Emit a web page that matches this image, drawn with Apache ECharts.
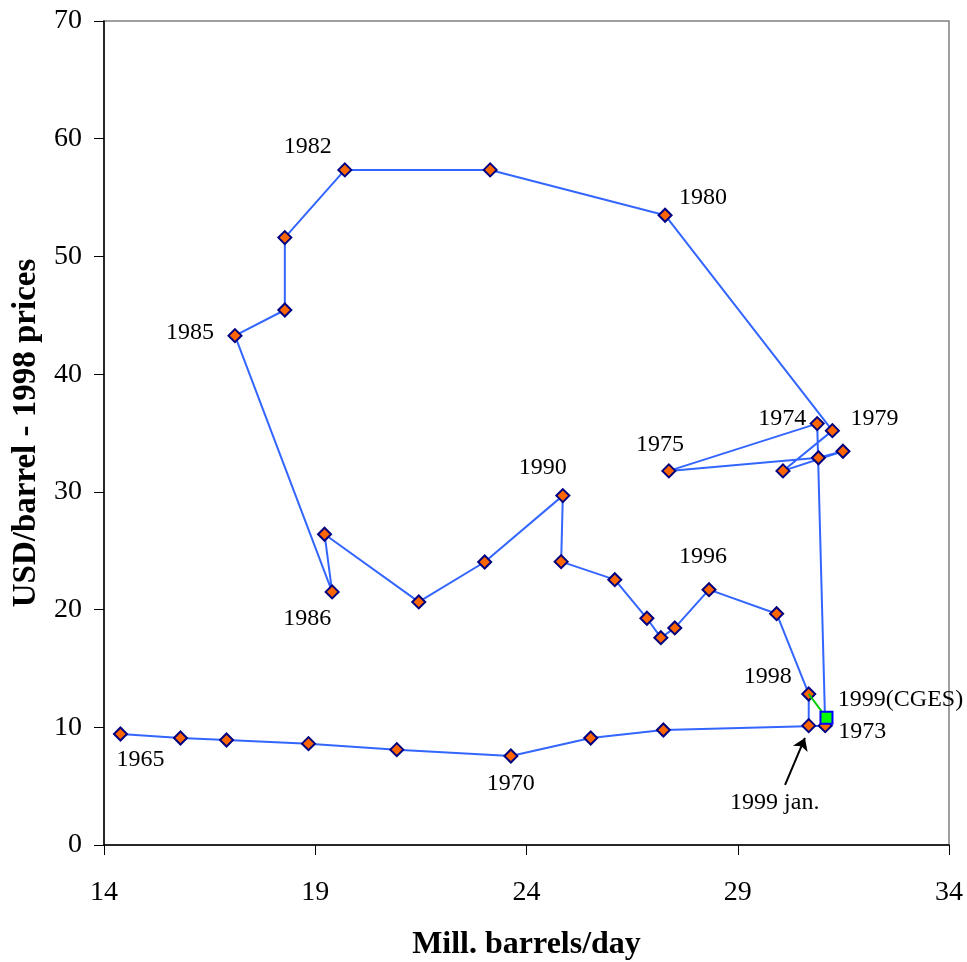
<!DOCTYPE html>
<html>
<head>
<meta charset="utf-8">
<script src="https://cdn.jsdelivr.net/npm/echarts@6/dist/echarts.min.js"></script>
<style>
  html, body { margin: 0; padding: 0; background: #fff; }
  #main { width: 967px; height: 962px; }
</style>
</head>
<body>
<div id="main"></div>
<script>
// years, production (mill. barrels/day) and real price (USD/barrel, 1998 prices)
var years = ['1965','1966','1967','1968','1969','1970','1971','1972','1973','1974',
             '1975','1976','1977','1978','1979','1980','1981','1982','1983','1984',
             '1985','1986','1987','1988','1989','1990','1991','1992','1993','1994',
             '1995','1996','1997','1998','1999 jan.'];
var production = [14.39, 15.81, 16.90, 18.84, 20.93, 23.63, 25.52, 27.24, 31.07, 30.88,
                  27.37, 30.91, 31.49, 30.07, 31.24, 27.28, 23.14, 19.70, 18.28, 18.28,
                  17.10, 19.40, 19.22, 21.45, 23.01, 24.86, 24.82, 26.09, 26.85, 27.18,
                  27.51, 28.32, 29.92, 30.68, 30.68];
var price = [9.43, 9.09, 8.92, 8.61, 8.10, 7.56, 9.09, 9.77, 10.14, 35.8,
             31.78, 32.9, 33.45, 31.78, 35.2, 53.5, 57.35, 57.35, 51.6, 45.45,
             43.27, 21.5, 26.4, 20.65, 24.04, 29.68, 24.07, 22.54, 19.26, 17.61,
             18.44, 21.69, 19.65, 12.83, 10.14];

// CGES estimate for 1999, drawn from the 1998 point
var cgesProduction = [30.68, 31.1];
var cgesPrice = [12.83, 10.8];

var xTicks = [14, 19, 24, 29, 34];

// label offsets in px (label centre minus point centre)
var labelOffsets = {
    '1965': [20, 26], '1970': [0, 28], '1973': [37, 6], '1974': [-35, -5],
    '1975': [-9, -26], '1979': [42, -12], '1980': [38, -18], '1982': [-37, -23],
    '1985': [-45, -3], '1986': [-25, 27], '1990': [-20, -28], '1996': [-6, -33],
    '1998': [-41, -17], '1999 jan.': [-34, 77]
};

// arrow pointing at the 1999 jan. point
var arrowFrom = [30.12, 5.1];
var arrowTo = [30.59, 9.1];

var fontFamily = '"Liberation Serif", "Times New Roman", serif';

var mainData = years.map(function (y, i) {
    var item = { name: y, value: [production[i], price[i]] };
    if (labelOffsets[y]) {
        item.label = { show: true, position: 'inside', offset: labelOffsets[y], formatter: y };
    }
    return item;
});

var cgesData = cgesProduction.map(function (p, i) {
    var item = { value: [p, cgesPrice[i]] };
    if (i === 0) {
        item.symbol = 'none';
    } else {
        item.label = { show: true, position: 'inside', offset: [74, -18], formatter: '1999(CGES)' };
    }
    return item;
});

var myChart = echarts.init(document.getElementById('main'));

var option = {
    backgroundColor: '#fff',
    animation: false,
    textStyle: { fontFamily: fontFamily },
    grid: {
        left: 104, top: 21, right: 18, bottom: 117,
        containLabel: false, outerBoundsMode: 'none',
        show: true, borderColor: '#808080', borderWidth: 1.5
    },
    xAxis: {
        type: 'value', min: 14, max: 34,
        name: 'Mill. barrels/day', nameLocation: 'middle', nameGap: 84,
        nameTextStyle: { fontSize: 32, fontWeight: 'bold', color: '#000', fontFamily: fontFamily },
        axisLine: { show: true, onZero: false, lineStyle: { color: '#000', width: 1.5 } },
        axisTick: { show: true, length: 10, customValues: xTicks, lineStyle: { color: '#000' } },
        axisLabel: { customValues: xTicks, margin: 34, fontSize: 28, color: '#000', fontFamily: fontFamily },
        splitLine: { show: false }
    },
    yAxis: {
        type: 'value', min: 0, max: 70, interval: 10,
        name: 'USD/barrel - 1998 prices', nameLocation: 'middle', nameGap: 58,
        nameTextStyle: { fontSize: 33, fontWeight: 'bold', color: '#000', fontFamily: fontFamily },
        axisLine: { show: true, onZero: false, lineStyle: { color: '#000', width: 1.5 } },
        axisTick: { show: true, length: 10, lineStyle: { color: '#000' } },
        axisLabel: { margin: 22, fontSize: 28, color: '#000', fontFamily: fontFamily },
        splitLine: { show: false }
    },
    series: [{
        name: 'price',
        type: 'line',
        data: mainData,
        symbol: 'diamond',
        symbolSize: 13,
        lineStyle: { color: '#3366ff', width: 2 },
        itemStyle: { color: '#ff6600', borderColor: '#000080', borderWidth: 2 },
        label: { color: '#000', fontSize: 24, fontFamily: fontFamily },
        z: 3,
        markLine: {
            silent: true,
            symbol: ['none', 'arrow'],
            symbolSize: 12,
            label: { show: false },
            lineStyle: { color: '#000', width: 2, type: 'solid' },
            data: [[{ coord: arrowFrom }, { coord: arrowTo }]]
        }
    }, {
        name: 'CGES',
        type: 'line',
        data: cgesData,
        symbol: 'rect',
        symbolSize: 12,
        lineStyle: { color: '#00cc00', width: 2 },
        itemStyle: { color: '#00ff00', borderColor: '#0000ff', borderWidth: 2 },
        label: { color: '#000', fontSize: 24, fontFamily: fontFamily },
        z: 4
    }]
};

myChart.setOption(option);
</script>
</body>
</html>
